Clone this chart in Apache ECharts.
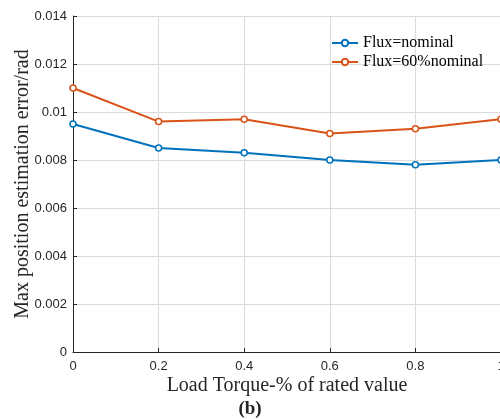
<!DOCTYPE html>
<html><head><meta charset="utf-8">
<script src="https://cdn.jsdelivr.net/npm/echarts@6/dist/echarts.min.js"></script>
<style>html,body{margin:0;padding:0;background:#fff}#c{width:500px;height:419px}</style>
</head><body><div id="c"></div>
<script>
const loadTorque = [0, 0.2, 0.4, 0.6, 0.8, 1.0];
const fluxNominal = [0.0095, 0.0085, 0.0083, 0.0080, 0.0078, 0.0080];
const flux60 = [0.0110, 0.0096, 0.0097, 0.0091, 0.0093, 0.0097];
const seriesNames = ['Flux=nominal', 'Flux=60%nominal'];
const xTitle = 'Load Torque-% of rated value';
const yTitle = 'Max position estimation error/rad';
const caption = '(b)';

const chart = echarts.init(document.getElementById('c'), null, {renderer: 'canvas'});
const mk = arr => loadTorque.map((x, i) => [x, arr[i]]);
const serif = '"Liberation Serif", "Times New Roman", serif';
const sans = '"Liberation Sans", Arial, sans-serif';
chart.setOption({
  animation: false,
  backgroundColor: '#fff',
  grid: {left: 73, top: 16, width: 428, bottom: 67, containLabel: false, outerBoundsMode: 'none'},
  legend: {
    data: seriesNames,
    left: 331, top: 35, orient: 'vertical', itemGap: 3, padding: 0,
    itemWidth: 26, itemHeight: 8,
    textStyle: {fontFamily: serif, fontSize: 16, color: '#000'},
  },
  xAxis: {
    type: 'value', min: 0, max: 1, interval: 0.2,
    name: xTitle, nameLocation: 'middle', nameGap: 24, nameMoveOverlap: false,
    nameTextStyle: {fontFamily: serif, fontSize: 20, color: '#262626'},
    axisLine: {lineStyle: {color: '#262626', width: 1}},
    axisTick: {show: true, inside: true, length: 4, lineStyle: {color: '#262626'}},
    axisLabel: {fontFamily: sans, fontSize: 13, color: '#262626', margin: 8},
    splitLine: {show: true, lineStyle: {color: '#dcdcdc', width: 1}}
  },
  yAxis: {
    type: 'value', min: 0, max: 0.014, interval: 0.002,
    name: yTitle, nameLocation: 'middle', nameGap: 40, nameMoveOverlap: false,
    nameTextStyle: {fontFamily: serif, fontSize: 20, color: '#262626'},
    axisLine: {show: true, lineStyle: {color: '#262626', width: 1}},
    axisTick: {show: true, inside: true, length: 4, lineStyle: {color: '#262626'}},
    axisLabel: {fontFamily: sans, fontSize: 13, color: '#262626', margin: 6},
    splitLine: {show: true, lineStyle: {color: '#dcdcdc', width: 1}}
  },
  graphic: [{
    type: 'text', left: 'center', top: 400,
    style: {text: caption, font: 'bold 19px ' + serif, fill: '#262626'}
  }],
  series: [
    {name: seriesNames[0], type: 'line', data: mk(fluxNominal), symbol: 'circle', symbolSize: 6,
     itemStyle: {color: '#fff', borderColor: '#0072BD', borderWidth: 1.5},
     lineStyle: {color: '#0072BD', width: 2}, color: '#0072BD'},
    {name: seriesNames[1], type: 'line', data: mk(flux60), symbol: 'circle', symbolSize: 6,
     itemStyle: {color: '#fff', borderColor: '#D95319', borderWidth: 1.5},
     lineStyle: {color: '#D95319', width: 2}, color: '#D95319'}
  ]
});
</script></body></html>
